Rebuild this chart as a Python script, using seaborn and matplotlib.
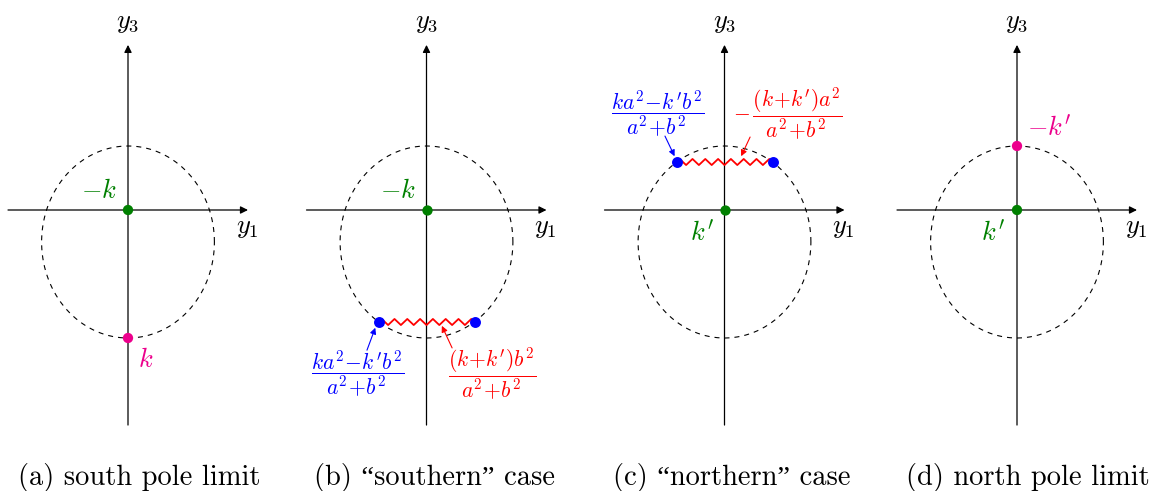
import numpy as np
import pandas as pd
import matplotlib
matplotlib.use("Agg")
import matplotlib.pyplot as plt
import seaborn as sns

sns.set_theme(style="white")
plt.rcParams["mathtext.fontset"] = "cm"
plt.rcParams["font.family"] = ["cmr10", "Liberation Serif", "DejaVu Serif"]
plt.rcParams["axes.formatter.use_mathtext"] = True
plt.rcParams["text.color"] = "black"

# ---------------- data (units: one grid unit) ----------------
panel_ids = ["a", "b", "c", "d"]
panel_origin_px = [128, 426.5, 724.5, 1017]          # horizontal placement of each panel
captions = ["(a) south pole limit", "(b) \u201csouthern\u201d case",
            "(c) \u201cnorthern\u201d case", "(d) north pole limit"]

# dashed ellipse (same in every panel)
ellipse_center = (0.0, -1.0)
ellipse_rx = 2.7
ellipse_ry = 3.0

# axes extents
x_axis_range = (-3.75, 3.75)
y_axis_range = (-6.72, 5.16)

# single points: panel, x, y, colour key
pt_panel = ["a", "a", "b", "c", "d", "d"]
pt_x = [0.0, 0.0, 0.0, 0.0, 0.0, 0.0]
pt_y = [0.0, -4.0, 0.0, 0.0, 0.0, 2.0]
pt_kind = ["green", "pink", "green", "green", "green", "pink"]

# point labels
lab_panel = ["a", "a", "b", "c", "d", "d"]
lab_x = [-0.90, 0.55, -0.90, -0.70, -0.75, 1.00]
lab_y = [0.60, -4.70, 0.60, -0.72, -0.72, 2.58]
lab_text = [r"$-k$", r"$k$", r"$-k$", r"$k'$", r"$k'$", r"$-k'$"]
lab_kind = ["green", "pink", "green", "green", "green", "pink"]

# branch cut (zigzag) segments: panel, x_left, x_right, y
cut_panel = ["b", "c"]
cut_x0 = [-1.5, -1.5]
cut_x1 = [1.5, 1.5]
cut_y = [-3.5, 1.5]

# fraction labels with arrows
frac_panel = ["b", "b", "c", "c"]
frac_text = [r"$\dfrac{ka^2\!-\!k'b^2}{a^2\!+\!b^2}$",
             r"$\dfrac{(k\!+\!k')b^2}{a^2\!+\!b^2}$",
             r"$\dfrac{ka^2\!-\!k'b^2}{a^2\!+\!b^2}$",
             r"$-\,\dfrac{(k\!+\!k')a^2}{a^2\!+\!b^2}$"]
frac_kind = ["blue", "red", "blue", "red"]
frac_x = [-2.14, 2.05, -2.10, 1.98]
frac_y = [-5.10, -5.10, 3.02, 3.02]
arrow_from = [(-1.86, -4.38), (0.80, -4.31), (-1.86, 2.31), (0.80, 2.28)]
arrow_to = [(-1.60, -3.68), (0.48, -3.62), (-1.56, 1.68), (0.52, 1.68)]

palette = {"green": "#008000", "pink": "#EC008C", "blue": "#0000FF", "red": "#FF0000"}

# ---------------- figure ----------------
W, H = 1149, 491
DPI = 100
UNIT = 32.0  # pixels per unit
fig = plt.figure(figsize=(W / DPI, H / DPI), dpi=DPI)

left_px, right_px = 128, 150
top_px, bottom_px = 0, 440
ORIGIN_Y_PX = 210

points = pd.DataFrame({"panel": pt_panel, "x": pt_x, "y": pt_y, "kind": pt_kind})


def zigzag(x0, x1, y, period=0.2, amp=0.095):
    n = int(round((x1 - x0) / period))
    xs = np.linspace(x0, x1, 2 * n + 1)
    ys = np.full_like(xs, y)
    ys[1::2] += amp * np.where(np.arange(n) % 2 == 0, 1, -1)
    return xs, ys


for pid, ox in zip(panel_ids, panel_origin_px):
    ax0 = (ox - left_px) / W
    axw = (left_px + right_px) / W
    ay0 = (H - bottom_px) / H
    ayh = (bottom_px - top_px) / H
    ax = fig.add_axes([ax0, ay0, axw, ayh])
    ax.set_xlim(-left_px / UNIT, right_px / UNIT)
    ax.set_ylim(-(bottom_px - ORIGIN_Y_PX) / UNIT, (ORIGIN_Y_PX - top_px) / UNIT)
    ax.set_axis_off()

    # coordinate axes
    ax.annotate("", xy=(x_axis_range[1], 0), xytext=(x_axis_range[0], 0),
                arrowprops=dict(arrowstyle="-|>", lw=0.9, color="black",
                                mutation_scale=11, shrinkA=0, shrinkB=0))
    ax.annotate("", xy=(0, y_axis_range[1]), xytext=(0, y_axis_range[0]),
                arrowprops=dict(arrowstyle="-|>", lw=0.9, color="black",
                                mutation_scale=11, shrinkA=0, shrinkB=0))
    ax.text(0, 5.84, r"$y_3$", ha="center", va="center", fontsize=19, color="black")
    ax.text(3.72, -0.56, r"$y_1$", ha="center", va="center", fontsize=19, color="black")

    # dashed ellipse
    t = np.linspace(0, 2 * np.pi, 400)
    ax.plot(ellipse_center[0] + ellipse_rx * np.cos(t),
            ellipse_center[1] + ellipse_ry * np.sin(t),
            color="black", lw=0.8, linestyle=(0, (4.5, 4.5)))

    # branch cuts
    for cp, c0, c1, cy in zip(cut_panel, cut_x0, cut_x1, cut_y):
        if cp != pid:
            continue
        xs, ys = zigzag(c0, c1, cy)
        ax.plot(xs, ys, color=palette["red"], lw=1.3, zorder=3)
        sns.scatterplot(x=[c0, c1], y=[cy, cy], ax=ax, color=palette["blue"],
                        s=62, linewidth=0, zorder=5, legend=False)

    # single points
    sub = points[points.panel == pid]
    sns.scatterplot(data=sub, x="x", y="y", hue="kind", palette=palette, ax=ax,
                    s=55, linewidth=0, zorder=6, legend=False)

    # point labels
    for lp, lx, ly, lt, lk in zip(lab_panel, lab_x, lab_y, lab_text, lab_kind):
        if lp == pid:
            ax.text(lx, ly, lt, ha="center", va="center", fontsize=19, color=palette[lk])

    # fraction labels + arrows
    for fp, ft, fk, fx, fy, a0, a1 in zip(frac_panel, frac_text, frac_kind, frac_x,
                                          frac_y, arrow_from, arrow_to):
        if fp != pid:
            continue
        ax.text(fx, fy, ft, ha="center", va="center", fontsize=15.5, color=palette[fk])
        ax.annotate("", xy=a1, xytext=a0,
                    arrowprops=dict(arrowstyle="-|>", lw=0.8, color=palette[fk],
                                    mutation_scale=9, shrinkA=0, shrinkB=0))

    ax.set_xlabel("")
    ax.set_ylabel("")

# captions
cap_centers_px = [139, 434, 732, 1028]
for cx, cap in zip(cap_centers_px, captions):
    fig.text(cx / W, 1 - 477 / H, cap, ha="center", va="center", fontsize=20.5,
             color="black", family=["cmr10", "Liberation Serif", "DejaVu Serif"])

fig.savefig("out.png", dpi=DPI)
